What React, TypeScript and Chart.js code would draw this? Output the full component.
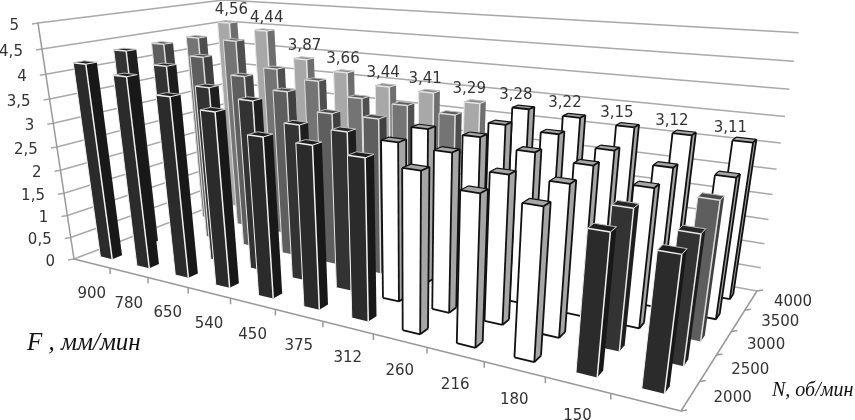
import React, { useEffect, useRef } from "react";
import { Chart, BarController, registerables } from "chart.js";

Chart.register(...registerables);

const feedRates = ["900", "780", "650", "540", "450", "375", "312", "260", "216", "180", "150", ""];
const speeds = ["2000", "2500", "3000", "3500", "4000"];
const row2000 = [4.2, 4.04, 3.75, 3.57, 3.22, 3.2, 3.11, 3.03, 2.8, 2.75, 2.51, 2.35];
const row2500 = [4.32, 4.09, 3.75, 3.59, 3.23, 3.22, 3.15, 3.1, 2.85, 2.84, 2.59, 2.34];
const row3000 = [4.33, 4.13, 3.81, 3.59, 3.25, 3.26, 3.18, 3.15, 3.0, 2.9, 2.65, 2.6];
const row3500 = [4.34, 4.34, 3.81, 3.64, 3.37, 3.33, 3.25, 3.17, 3.11, 2.93, 2.75, 2.72];
const row4000 = [4.56, 4.44, 3.87, 3.66, 3.44, 3.41, 3.29, 3.28, 3.22, 3.15, 3.12, 3.11];
const whiteFrom = [7, 6, 6, 7, 7];
const whiteTo = [9, 9, 10, 11, 11];

const fmt = (v: number) => String(v).replace(".", ",");

// camera: floor corners and the shared vertical direction of the perspective
const P00 = [74, 259], P10 = [681, 411], P11 = [757, 291];
const G = -0.305, K = 0.215, EPS = -0.097, DX = -39.7, DY = -238.2;
const w10 = 1 + G, w11 = 1 + G + K;
const project = (u: number, v: number, h: number) => {
  const X = (p: number) =>
    P00[p] + u * (w10 * P10[p] - P00[p]) + v * (w11 * P11[p] - w10 * P10[p]);
  const w = 1 + G * u + K * v + EPS * h;
  return [(X(0) + DX * h) / w, (X(1) + DY * h) / w];
};
const dec = (s: any, v: number) => (v - s.min) / (s.max - s.min);

const shades = [
  { front: "#2b2b2b", side: "#181818", top: "#1e1e1e", edge: "#f2f2f2" },
  { front: "#333333", side: "#1e1e1e", top: "#262626", edge: "#e8e8e8" },
  { front: "#5e5e5e", side: "#404040", top: "#4a4a4a", edge: "#dddddd" },
  { front: "#747474", side: "#4f4f4f", top: "#5c5c5c", edge: "#dddddd" },
  { front: "#a8a8a8", side: "#6e6e6e", top: "#8a8a8a", edge: "#e6e6e6" },
];
const whiteShade = { front: "#ffffff", side: "#a6a6a6", top: "#a6a6a6", edge: "#111111" };

const poly = (ctx: CanvasRenderingContext2D, pts: number[][], fill: string) => {
  ctx.beginPath();
  pts.forEach((p, i) => (i ? ctx.lineTo(p[0], p[1]) : ctx.moveTo(p[0], p[1])));
  ctx.closePath();
  ctx.fillStyle = fill;
  ctx.fill();
};
const seg = (ctx: CanvasRenderingContext2D, a: number[], b: number[], color: string, w: number) => {
  ctx.beginPath();
  ctx.moveTo(a[0], a[1]);
  ctx.lineTo(b[0], b[1]);
  ctx.strokeStyle = color;
  ctx.lineWidth = w;
  ctx.stroke();
};

const HALF_W = 0.165;
const HALF_D = 0.13;

class Bar3DController extends BarController {
  static id = "bar3d";
  static defaults = BarController.defaults;
  draw() {
    const chart = this.chart;
    const ctx = chart.ctx;
    const meta = this.getMeta();
    const row = meta.index;
    const n = chart.data.labels!.length;
    const rows = chart.data.datasets.length;
    const y = chart.scales.y;
    ctx.save();
    ctx.lineJoin = "round";
    for (let i = 0; i < n; i++) {
      const val = this.getParsed(i).y as number;
      const h = dec(y, val);
      const c = i + 0.5, r = row + 0.5;
      const u0 = (c - HALF_W) / n, u1 = (c + HALF_W) / n;
      const v0t = (r - HALF_D) / rows, v1t = (r + HALF_D) / rows;
      const st = i >= whiteFrom[row] && i <= whiteTo[row] ? whiteShade : shades[row];
      const fb = project(u0, v0t, 0), fr = project(u1, v0t, 0), br = project(u1, v1t, 0);
      const ft = project(u0, v0t, h), rt = project(u1, v0t, h), brt = project(u1, v1t, h), blt = project(u0, v1t, h);
      poly(ctx, [fb, fr, rt, ft], st.front);
      poly(ctx, [fr, br, brt, rt], st.side);
      poly(ctx, [ft, rt, brt, blt], st.top);
      if (st === whiteShade) {
        const lw = 1.8;
        seg(ctx, fr, rt, st.edge, lw);
        seg(ctx, ft, rt, st.edge, lw);
        seg(ctx, ft, fb, st.edge, lw);
        seg(ctx, fb, fr, st.edge, lw);
        seg(ctx, fr, br, st.edge, lw);
        seg(ctx, br, brt, st.edge, lw);
        seg(ctx, rt, brt, st.edge, lw);
        seg(ctx, brt, blt, st.edge, 1.2);
        seg(ctx, blt, ft, st.edge, 1.2);
      } else {
        seg(ctx, fr, rt, st.edge, 1.5);
        seg(ctx, ft, rt, st.edge, 1.5);
        seg(ctx, ft, fb, st.edge, 1);
        seg(ctx, rt, brt, st.edge, 1);
        seg(ctx, brt, blt, "#bbbbbb", 1);
        seg(ctx, blt, ft, "#bbbbbb", 1);
      }
    }
    ctx.restore();
  }
}
Chart.register(Bar3DController);

const GRID = "#a9a9a9";
const TEXT = "#333333";
const LABEL_FONT = "15px 'DejaVu Sans'";

const wallsPlugin = {
  id: "walls",
  beforeDatasetsDraw(chart: any) {
    const ctx = chart.ctx;
    const y = chart.scales.y;
    ctx.save();
    y.ticks.forEach((t: any) => {
      const h = dec(y, t.value);
      const a = project(0, 0, h), b = project(0, 1, h), c = project(1, 1, h);
      ctx.beginPath();
      ctx.moveTo(a[0] - 6, a[1] + 1);
      ctx.lineTo(a[0], a[1]);
      ctx.lineTo(b[0], b[1]);
      ctx.lineTo(c[0], c[1]);
      ctx.strokeStyle = GRID;
      ctx.lineWidth = 1.5;
      ctx.stroke();
    });
    seg(ctx, project(0, 0, 0), project(0, 0, 1), "#999999", 1.5);
    seg(ctx, project(0, 0, 0), project(1, 0, 0), "#999999", 1.5);
    seg(ctx, project(1, 0, 0), project(1, 1, 0), "#999999", 1.5);
    const nx = chart.data.labels.length;
    for (let i = 1; i < nx; i++) {
      const p = project(i / nx, 0, 0);
      seg(ctx, p, [p[0], p[1] + 6], "#999999", 1.5);
    }
    const nr = chart.data.datasets.length;
    for (let r = 0; r <= nr; r++) {
      const p = project(1, r / nr, 0);
      seg(ctx, p, [p[0] + 6, p[1] - 1], "#999999", 1.5);
    }
    ctx.restore();
  },
  afterDatasetsDraw(chart: any) {
    const ctx = chart.ctx;
    const y = chart.scales.y;
    ctx.save();
    ctx.font = LABEL_FONT;
    ctx.fillStyle = TEXT;
    ctx.textBaseline = "middle";
    ctx.textAlign = "right";
    y.ticks.forEach((t: any) => {
      const p = project(0, 0, dec(y, t.value));
      ctx.fillText(t.label, p[0] - 19, p[1] + 3);
    });
    ctx.textAlign = "center";
    const nx = chart.data.labels.length;
    chart.data.labels.forEach((l: string, i: number) => {
      const p = project((i + 0.5) / nx, 0, 0);
      ctx.fillText(l, p[0], p[1] + 31);
    });
    const nr = chart.data.datasets.length;
    chart.data.datasets.forEach((ds: any, r: number) => {
      const p = project(1, (r + 0.5) / nr, 0);
      ctx.fillText(ds.label, p[0] + 42, p[1] + 2);
    });
    const back = chart.data.datasets[nr - 1].data;
    back.forEach((v: number, i: number) => {
      const p = project((i + 0.5) / nx, (nr - 0.5) / nr, dec(y, v));
      ctx.fillText(fmt(v), p[0] + 4 - (18 * i) / (nx - 1), p[1] - 12);
    });
    ctx.fillStyle = "#111111";
    ctx.textAlign = "left";
    ctx.font = "italic 25px 'Liberation Serif'";
    ctx.fillText("F , мм/мин", 27, 343);
    ctx.font = "italic 20px 'Liberation Serif'";
    ctx.fillText("N, об/мин", 772, 391);
    ctx.restore();
  },
};

export default function App() {
  const ref = useRef<HTMLCanvasElement>(null);
  useEffect(() => {
    document.body.style.margin = "0";
    const rows = [row2000, row2500, row3000, row3500, row4000];
    const chart = new Chart(ref.current!, {
      type: "bar3d" as any,
      data: {
        labels: feedRates,
        datasets: rows.map((data, i) => ({ label: speeds[i], data })),
      },
      options: {
        animation: false,
        responsive: false,
        layout: { padding: 0 },
        scales: {
          x: { type: "category", display: false, ticks: { autoSkip: false } },
          y: {
            min: 0,
            max: 5,
            display: false,
            ticks: { stepSize: 0.5, callback: (v: any) => fmt(Number(v)) },
          },
        },
        plugins: { legend: { display: false }, tooltip: { enabled: false } },
      } as any,
      plugins: [wallsPlugin as any],
    });
    return () => chart.destroy();
  }, []);
  return <canvas ref={ref} width={855} height={420} style={{ display: "block" }} />;
}
